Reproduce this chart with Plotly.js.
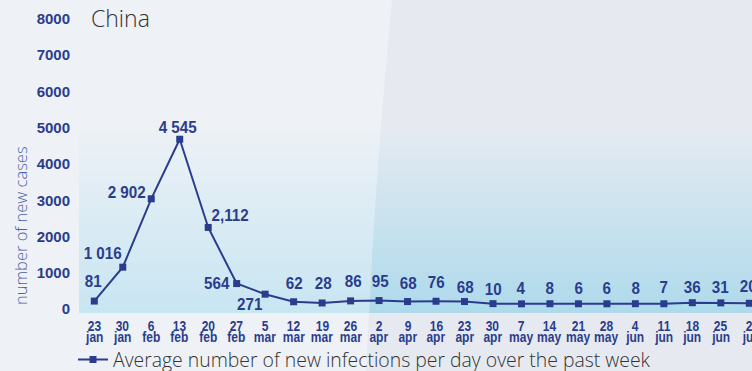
<!DOCTYPE html>
<html>
<head>
<meta charset="utf-8">
<script src="https://cdn.plot.ly/plotly-3.0.1.min.js"></script>
<style>html,body{margin:0;padding:0;background:#e6eaf0;}#chart{width:752px;height:371px;}
.cond text{transform-box:fill-box;transform-origin:center;transform:scaleX(0.8);}
.semi text{transform-box:fill-box;transform-origin:center;transform:scaleX(0.92);}
</style>
</head>
<body>
<div id="chart"></div>
<script>
// ---- data ----
const days   = ["23","30","6","13","20","27","5","12","19","26","2","9","16","23","30","7","14","21","28","4","11","18","25","2"];
const months = ["jan","jan","feb","feb","feb","feb","mar","mar","mar","mar","apr","apr","apr","apr","apr","may","may","may","may","jun","jun","jun","jun","jul"];
const cases  = [81,1016,2902,4545,2112,564,271,62,28,86,95,68,76,68,10,4,8,6,6,8,7,36,31,20];
const caseLabels = ["81","1 016","2 902","4 545","2,112","564","271","62","28","86","95","68","76","68","10","4","8","6","6","8","7","36","31","20"];
const yTicks = [0,1000,2000,3000,4000,5000,6000,7000,8000];
const seriesName = "Average number of new infections per day over the past week";
const yTitle = "number of new cases";

// ---- label offsets (px) ----
const labelDx = [-1,-20,-25,-2,22,-20,-15,0,1,2,1,0,0,0,0,0,0,0,0,0,0,0,-1,-1];
const labelDy = [20,14,7,12,12,1,-10,19,20,20,20,19,19,15,15,16,16,16,16,16,17,16,16,17];

const idx = cases.map((_, i) => i);
const blue = "#2a3d8c";
const boldFont = "Liberation Sans, Arial, sans-serif";

const trace = {
  x: idx, y: cases, type: "scatter", mode: "lines+markers",
  name: seriesName,
  line: {color: blue, width: 2},
  marker: {color: blue, symbol: "square", size: 7},
  hoverinfo: "skip"
};

const annotations = [];
// x-axis date labels first (indices 0 .. 2n-1)
idx.forEach(i => {
  annotations.push({x: i, y: -0.042, xref: "x", yref: "paper", text: days[i], showarrow: false,
    yanchor: "middle", font: {family: boldFont, size: 15, color: blue, weight: 700}});
  annotations.push({x: i, y: -0.078, xref: "x", yref: "paper", text: months[i], showarrow: false,
    yanchor: "middle", font: {family: boldFont, size: 15, color: blue, weight: 700}});
});
const nDateAnn = annotations.length;
idx.forEach(i => {
  annotations.push({x: i, y: cases[i], xref: "x", yref: "y", text: caseLabels[i], showarrow: false,
    xshift: labelDx[i], yshift: labelDy[i], font: {family: boldFont, size: 16.5, color: blue, weight: 700}});
});
const nLabelAnn = annotations.length;
// y-axis title (placed like the reference, centred lower than the plot middle)
annotations.push({x: (20 - 79) / 673, y: (313 - 226) / 303, xref: "paper", yref: "paper", text: yTitle, textangle: -90,
  showarrow: false, xanchor: "center", yanchor: "middle",
  font: {family: "Open Sans, sans-serif", size: 16.5, color: "#4a62a8", weight: 300}});

// background gradient in plot area (decoration)
const shapes = [];
const N = 40, gTop = 0.604;
const cBot = [174, 218, 236], cTop = [228, 234, 241];
for (let k = 0; k < N; k++) {
  const t = (k + 0.5) / N;
  const c = cBot.map((v, j) => Math.round(v + (cTop[j] - v) * t));
  shapes.push({type: "rect", xref: "paper", yref: "paper", x0: 0, x1: 1.01,
    y0: gTop * k / N, y1: gTop * (k + 1) / N + 0.002, layer: "below",
    line: {width: 0}, fillcolor: `rgb(${c[0]},${c[1]},${c[2]})`});
}
// lighter left panel overlay
const px = p => (p - 79) / 673, py = p => (313 - p) / 303;
shapes.push({type: "path", xref: "paper", yref: "paper", layer: "below", line: {width: 0},
  fillcolor: "rgba(255,255,255,0.32)",
  path: `M ${px(0)},${py(0)} L ${px(392)},${py(0)} Q ${px(378)},${py(150)} ${px(372)},${py(260)} L ${px(366)},${py(371)} L ${px(0)},${py(371)} Z`});

const layout = {
  width: 752, height: 371,
  margin: {l: 79, r: 0, t: 10, b: 58},
  paper_bgcolor: "#e6eaf0", plot_bgcolor: "rgba(0,0,0,0)",
  title: {text: "China", x: 91 / 752, xanchor: "left", xref: "container", y: 1 - 19 / 371, yref: "container", yanchor: "middle",
    font: {family: "Open Sans, sans-serif", size: 23, color: "#333333", weight: 300}},
  xaxis: {range: [-0.537, 23.095], showgrid: false, zeroline: false, showticklabels: false, showline: false, fixedrange: true},
  yaxis: {range: [-248, 8110], tickvals: yTicks, ticktext: yTicks.map(String), showgrid: false, zeroline: false, showline: false,
    ticks: "", ticklabelstandoff: 8, ticklabelshift: 5,
    tickfont: {family: boldFont, size: 15, color: blue, weight: 700}},
  showlegend: true,
  legend: {orientation: "h", xref: "container", yref: "container", x: 73 / 752, xanchor: "left", y: 11 / 371, yanchor: "middle",
    bgcolor: "rgba(0,0,0,0)", itemwidth: 30,
    font: {family: "Open Sans, sans-serif", size: 19.4, color: "#333333", weight: 300}},
  annotations: annotations,
  shapes: shapes
};

Plotly.newPlot("chart", [trace], layout, {staticPlot: true, displayModeBar: false}).then(gd => {
  gd.querySelectorAll(".annotation[data-index]").forEach(g => {
    const k = +g.getAttribute("data-index");
    if (k < nDateAnn) g.classList.add("cond");
    else if (k < nLabelAnn) g.classList.add("semi");
  });
});
</script>
</body>
</html>
